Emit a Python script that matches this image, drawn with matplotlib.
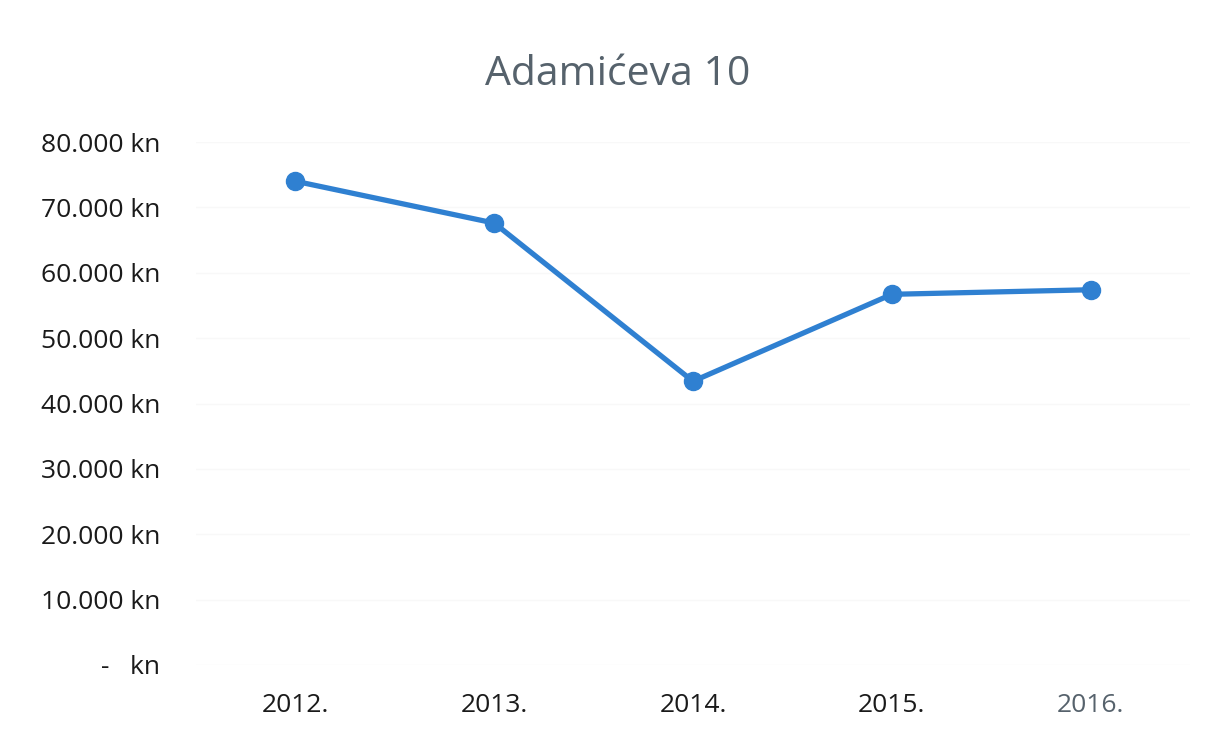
import matplotlib.pyplot as plt
from matplotlib.ticker import FuncFormatter

years = ["2012.", "2013.", "2014.", "2015.", "2016."]
values = [74000, 67600, 43400, 56700, 57400]
y_ticks = [0, 10000, 20000, 30000, 40000, 50000, 60000, 70000, 80000]

plt.rcParams["font.family"] = ["Open Sans", "DejaVu Sans"]

fig = plt.figure(figsize=(12.13, 7.31), dpi=100)
ax = fig.add_axes([196 / 1213, 1 - 665 / 731, (1190 - 196) / 1213, (665 - 142) / 731])

x = list(range(len(years)))
ax.plot(x, values, color="#2f80d1", linewidth=3.8, marker="o", markersize=13,
        solid_joinstyle="round", zorder=3)

ax.set_xlim(-0.5, len(years) - 0.5)
ax.set_ylim(0, 80000)
ax.set_yticks(y_ticks)


def kn(v, pos):
    if v == 0:
        return "-   kn"
    return f"{int(v):,} kn".replace(",", ".")


ax.yaxis.set_major_formatter(FuncFormatter(kn))
ax.set_xticks(x)
ax.set_xticklabels(years)

ax.tick_params(axis="both", length=0, labelsize=19, labelcolor="#1a1a1a")
ax.tick_params(axis="y", pad=26)
ax.tick_params(axis="x", pad=20)
for lab in ax.get_xticklabels()[-1:]:
    lab.set_color("#56626c")

ax.grid(axis="y", color="#f8f8f8", linewidth=1)
ax.set_axisbelow(True)
for s in ax.spines.values():
    s.set_visible(False)

fig.text(618 / 1213, 1 - 75 / 731, "Adamićeva 10", ha="center", va="center",
         fontsize=29.5, color="#56626c")

fig.savefig("out.png", dpi=100, facecolor="white")
